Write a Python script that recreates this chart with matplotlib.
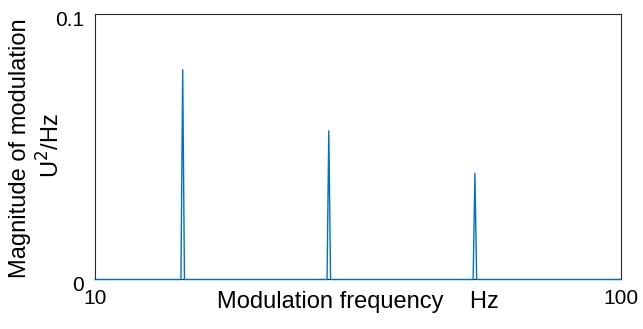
import matplotlib
matplotlib.use("Agg")
import matplotlib.pyplot as plt
from matplotlib.transforms import ScaledTranslation

# Datos del espectro de modulacion
freq = [10, 24.7, 25.0, 25.3, 49.7, 50.0, 50.3, 74.7, 75.0, 75.3, 100]
mag = [0, 0, 0.079, 0, 0, 0.056, 0, 0, 0.040, 0, 0]

xticks = [10, 100]
yticks = [0, 0.1]
ytick_labels = ["0", "0.1"]

plt.rcParams['font.family'] = ['Liberation Sans', 'DejaVu Sans']

fig = plt.figure(figsize=(6.43, 3.29), dpi=100)
ax = fig.add_axes([0.1478, 0.1505, 0.8180, 0.8069])

ax.plot(freq, mag, color='#0072BD', linewidth=1.0, zorder=3, clip_on=False)

ax.set_xlim(10, 100)
ax.set_ylim(0, 0.1)
ax.set_xticks(xticks)
ax.set_xticklabels([str(t) for t in xticks])
ax.set_yticks(yticks)
ax.set_yticklabels(ytick_labels)
ax.tick_params(axis='x', length=0, pad=7, labelsize=15)
ax.tick_params(axis='y', length=0, pad=8, labelsize=15)
# etiquetas del eje y un poco por debajo de su marca
for lab in ax.get_yticklabels():
    lab.set_transform(lab.get_transform() + ScaledTranslation(0, -4 / 100, fig.dpi_scale_trans))
for s in ax.spines.values():
    s.set_color('#262626')
    s.set_linewidth(0.8)

ax.set_xlabel("Modulation frequency    Hz", fontsize=17, va='top')
ax.xaxis.set_label_coords(0.5, -0.042)

# etiqueta del eje y en dos lineas
fig.text(20 / 643, 1 - 148 / 329, "Magnitude of modulation", rotation=90,
         fontsize=17, ha='center', va='center')
fig.text(51 / 643, 1 - 146 / 329, "U$^2$/Hz", rotation=90,
         fontsize=17, ha='center', va='center')

fig.savefig("out.png", dpi=100)
